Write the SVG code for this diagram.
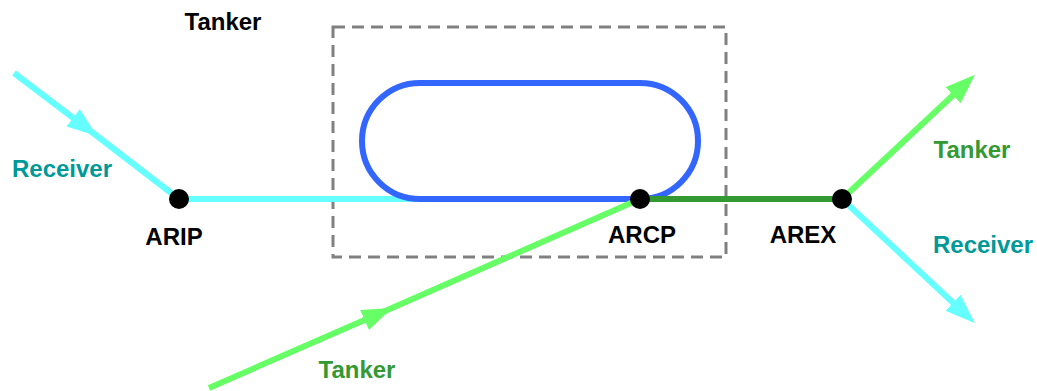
<svg xmlns="http://www.w3.org/2000/svg" width="1037" height="391" viewBox="0 0 1037 391">
<style>
.t{font-family:"Liberation Sans",Arial,sans-serif;font-weight:bold;font-size:24px;text-anchor:middle}
.k{fill:#000}
.rc{fill:#009999}
.tk{fill:#339933}
.ln{fill:none;stroke-width:6}
</style>
<defs>
<marker id="ac" markerUnits="userSpaceOnUse" markerWidth="32" markerHeight="24" refX="30" refY="11" orient="auto"><path d="M0,0 L30,11 L0,22 Z" fill="#66ffff"/></marker>
<marker id="ag" markerUnits="userSpaceOnUse" markerWidth="32" markerHeight="24" refX="30" refY="11" orient="auto"><path d="M0,0 L30,11 L0,22 Z" fill="#66ff66"/></marker>
<marker id="acE" markerUnits="userSpaceOnUse" markerWidth="32" markerHeight="24" refX="15" refY="11" orient="auto"><path d="M0,0 L30,11 L0,22 Z" fill="#66ffff"/></marker>
<marker id="agE" markerUnits="userSpaceOnUse" markerWidth="32" markerHeight="24" refX="15" refY="11" orient="auto"><path d="M0,0 L30,11 L0,22 Z" fill="#66ff66"/></marker>
</defs>
<g id="tanker-area">
<rect x="333" y="27" width="393" height="230" fill="none" stroke="#808080" stroke-width="3" stroke-dasharray="12,7"/>
<text class="t k" x="223" y="30">Tanker</text>
</g>
<g id="connectors">
<path class="ln" stroke="#66ffff" d="M14,73 L97,136 L179,199" marker-mid="url(#ac)"/>
<path class="ln" stroke="#66ffff" d="M179,199 H420"/>
<path id="orbit" class="ln" stroke="#3366ff" d="M420,83 H640 A58,58 0 0 1 640,199 H420 A58,58 0 0 1 420,83 Z"/>
<path class="ln" stroke="#66ff66" d="M209,388 L392,308 L640,199" marker-mid="url(#ag)"/>
<path class="ln" stroke="#339933" d="M640,199 H842"/>
<path class="ln" stroke="#66ff66" d="M842,199 L964,85" marker-end="url(#agE)"/>
<path class="ln" stroke="#66ffff" d="M842,199 L964,313" marker-end="url(#acE)"/>
</g>
<g id="ARIP">
<circle cx="179" cy="199" r="10" fill="#000"/>
<text class="t k" x="174" y="245">ARIP</text>
</g>
<g id="ARCP">
<circle cx="640" cy="199" r="10" fill="#000"/>
<text class="t k" x="642" y="243">ARCP</text>
</g>
<g id="AREX">
<circle cx="842" cy="199" r="10" fill="#000"/>
<text class="t k" x="803" y="243">AREX</text>
</g>
<g id="labels">
<text class="t rc" x="62" y="177">Receiver</text>
<text class="t tk" x="972" y="158">Tanker</text>
<text class="t rc" x="983" y="253">Receiver</text>
<text class="t tk" x="357" y="378">Tanker</text>
</g>
</svg>
